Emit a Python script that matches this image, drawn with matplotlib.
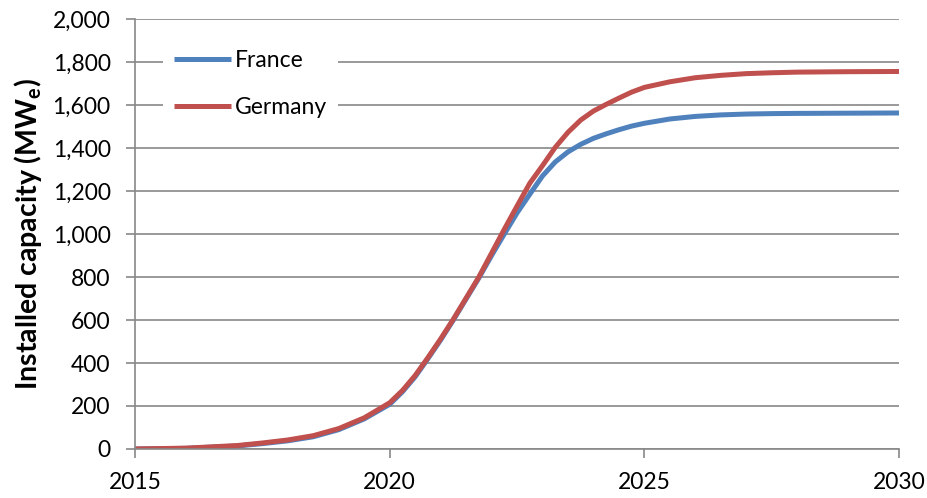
import matplotlib.pyplot as plt
from matplotlib.ticker import FuncFormatter, MultipleLocator

# sample years (denser through the steep part of the ramp)
years = [2015, 2016, 2017, 2017.5, 2018, 2018.5, 2019, 2019.5,
         2020, 2020.25, 2020.5, 2020.75, 2021, 2021.25, 2021.5, 2021.75,
         2022, 2022.25, 2022.5, 2022.75, 2023, 2023.25, 2023.5, 2023.75,
         2024, 2024.25, 2024.5, 2024.75, 2025, 2025.5, 2026, 2026.5,
         2027, 2027.5, 2028, 2029, 2030]

# installed capacity, MWe
france = [0, 3, 14, 25, 38, 57, 90, 140,
          208, 266, 336, 420, 507, 600, 698, 795,
          900, 1000, 1098, 1185, 1270, 1335, 1382, 1417,
          1445, 1466, 1485, 1502, 1515, 1535, 1547, 1554,
          1558, 1560, 1561, 1562, 1563]
germany = [0, 4, 16, 28, 42, 62, 95, 145,
           215, 272, 342, 425, 512, 604, 702, 800,
           911, 1022, 1130, 1236, 1318, 1403, 1473, 1530,
           1572, 1603, 1632, 1660, 1682, 1708, 1727, 1738,
           1746, 1750, 1753, 1755, 1756]

series_names = ["France", "Germany"]
series_colors = ["#4F81BD", "#C0504D"]

grid_col = "#888888"
font = "Lato"
tickFont = 16.5

fig = plt.figure(figsize=(9.28, 4.98), dpi=100)
ax = fig.add_axes([0.1455, 0.0984, 0.8233, 0.8634])

for name, vals, col in zip(series_names, [france, germany], series_colors):
    ax.plot(years, vals, color=col, lw=3.6, label=name, solid_capstyle="butt",
            solid_joinstyle="round")

ax.set_xlim(2015, 2030)
ax.set_ylim(0, 2000)
ax.xaxis.set_major_locator(MultipleLocator(5))
ax.yaxis.set_major_locator(MultipleLocator(200))
ax.yaxis.set_major_formatter(FuncFormatter(lambda v, p: f"{int(v):,}"))

ax.grid(axis="y", color=grid_col, lw=1.2)
ax.set_axisbelow(True)
for s in ["top", "right"]:
    ax.spines[s].set_visible(False)
for s in ["left", "bottom"]:
    ax.spines[s].set_color(grid_col)
    ax.spines[s].set_linewidth(1.2)

ax.tick_params(axis="both", direction="out", length=6.5, width=1.2, color=grid_col,
               labelsize=tickFont)
ax.tick_params(axis="x", pad=10)
ax.tick_params(axis="y", pad=11)
for lab in ax.get_xticklabels() + ax.get_yticklabels():
    lab.set_fontfamily(font)

ax.set_ylabel("Installed capacity (MW$_\\mathregular{e}$)", fontsize=20.5,
              fontweight="bold", family=font, labelpad=6)

leg = ax.legend(loc="upper left", bbox_to_anchor=(0.021, 0.982), frameon=True,
                fancybox=False, edgecolor="none", facecolor="white", framealpha=1,
                handlelength=2.5, handletextpad=0.15, labelspacing=1.15,
                prop={"family": font, "size": tickFont}, borderpad=0.5)

fig.savefig("out.png", dpi=100)
